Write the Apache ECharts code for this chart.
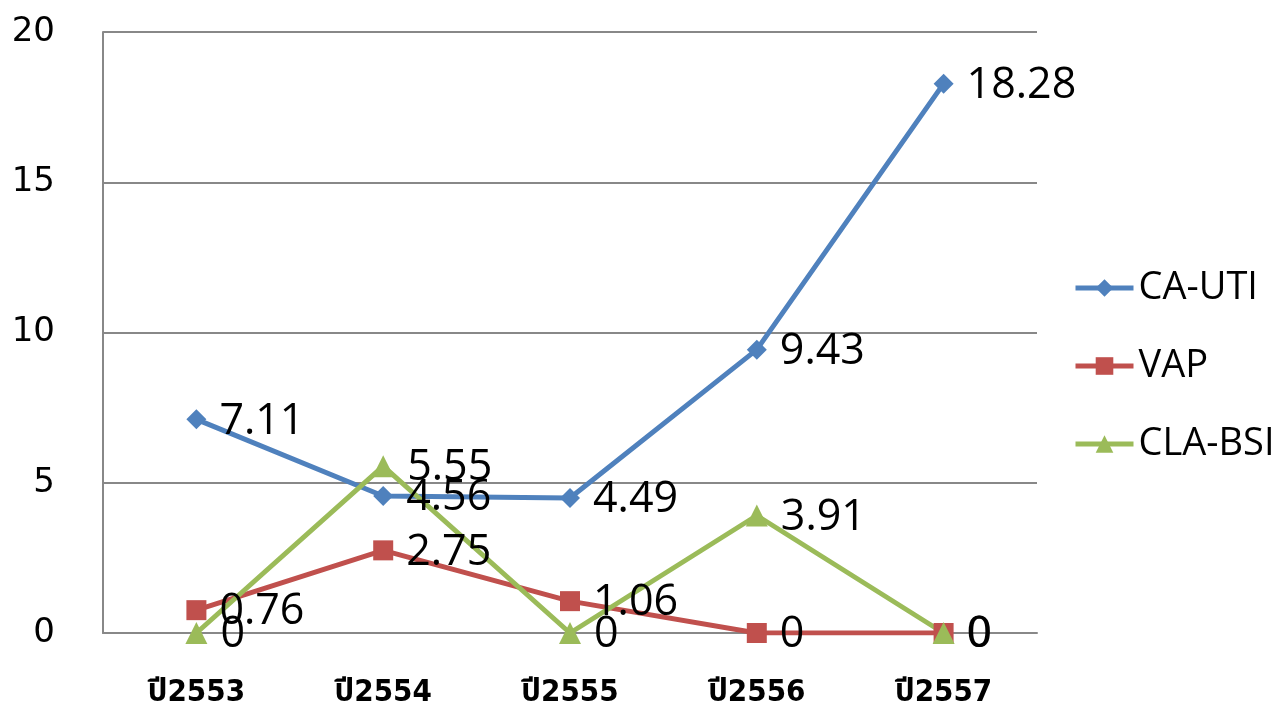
<!DOCTYPE html>
<html><head><meta charset="utf-8">
<script src="https://cdn.jsdelivr.net/npm/echarts@6/dist/echarts.min.js"></script>
<style>html,body{margin:0;padding:0;background:#fff}#c{width:1285px;height:712px}</style>
</head><body><div id="c"></div>
<script>
const categories = ['ปี2553','ปี2554','ปี2555','ปี2556','ปี2557'];
const caUti = [7.11, 4.56, 4.49, 9.43, 18.28];
const vap = [0.76, 2.75, 1.06, 0, 0];
const claBsi = [0, 5.55, 0, 3.91, 0];
const seriesNames = ['CA-UTI','VAP','CLA-BSI'];

const chart = echarts.init(document.getElementById('c'));
const font = 'Open Sans, Noto Sans, sans-serif';
const lbl = {show:true, position:'right', distance:13, offset:[0,2], color:'#000', fontSize:43, fontFamily:font};
function mk(name, data, color, symbol, size){
  return {name, type:'line', data, symbol, symbolSize:size, color,
    lineStyle:{width:5,color}, itemStyle:{color}, label:lbl, animation:false};
}
chart.setOption({
  animation:false,
  grid:{left:103, right:248, top:32, bottom:79},
  legend:{orient:'vertical', left:1068, top:264, itemGap:40, itemWidth:58, itemHeight:22,
    lineStyle:{width:5},
    textStyle:{fontSize:38, color:'#000', fontFamily:font},
    data:seriesNames},
  xAxis:{type:'category', data:categories, boundaryGap:true,
    axisLine:{lineStyle:{color:'#888', width:2}}, axisTick:{show:false},
    axisLabel:{margin:44, fontSize:31, fontWeight:'bold', color:'#000', fontFamily:'DejaVu Sans Condensed, Noto Sans Thai, Noto Sans, sans-serif'}},
  yAxis:{type:'value', min:0, max:20, interval:5,
    axisLine:{show:true, lineStyle:{color:'#888', width:2}}, axisTick:{show:false},
    splitLine:{lineStyle:{color:'#888', width:2}},
    axisLabel:{margin:48, fontSize:34, color:'#000', fontFamily:'DejaVu Sans, sans-serif'}},
  series:[
    mk('CA-UTI', caUti, '#4F81BD', 'diamond', 20),
    mk('VAP', vap, '#C0504D', 'rect', 20),
    mk('CLA-BSI', claBsi, '#9BBB59', 'triangle', 22)
  ]
});
</script></body></html>
